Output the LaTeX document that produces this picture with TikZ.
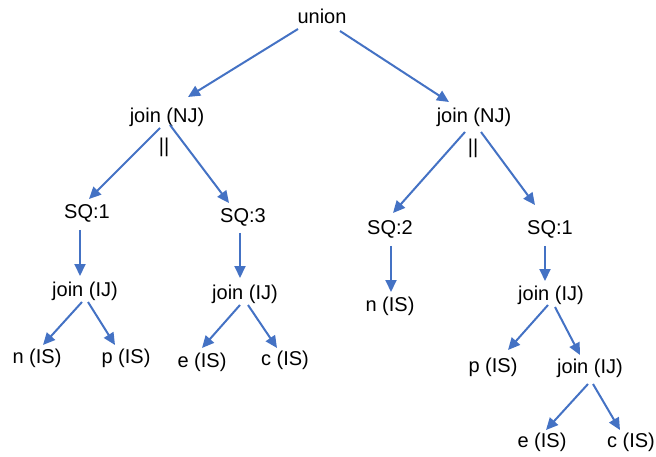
\documentclass[tikz,border=0pt]{standalone}
\usepackage{fontspec}
\setmainfont{Liberation Sans}
\usetikzlibrary{arrows.meta,calc}
\definecolor{edgeblue}{HTML}{4472C4}
\begin{document}
\begin{tikzpicture}[x=1pt,y=-1pt,
  lbl/.style={inner sep=0pt,font=\fontsize{20}{24}\selectfont},
  arr/.style={draw=edgeblue,line width=2pt,-{Triangle[length=12pt,width=11pt]}}]
\useasboundingbox (0,0) rectangle (656,457);
% plan nodes
\node[lbl] (union) at (322,16) {union};
\node[lbl] (njl) at (167,117) {join (NJ)};
\node[lbl] (njr) at (474,117) {join (NJ)};
\node[lbl] (parl) at (164,147) {||};
\node[lbl] (parr) at (473,148) {||};
\node[lbl] (sqa) at (87,213) {SQ:1};
\node[lbl] (sqc) at (243,217) {SQ:3};
\node[lbl] (sqb) at (390,229) {SQ:2};
\node[lbl] (sqd) at (550,229) {SQ:1};
\node[lbl] (ija) at (85,291) {join (IJ)};
\node[lbl] (ijb) at (245,294) {join (IJ)};
\node[lbl] (ijc) at (551,295) {join (IJ)};
\node[lbl] (ijd) at (590,368) {join (IJ)};
\node[lbl] (na) at (37,358) {n (IS)};
\node[lbl] (pa) at (126,358) {p (IS)};
\node[lbl] (ea) at (202,362) {e (IS)};
\node[lbl] (ca) at (285,360) {c (IS)};
\node[lbl] (nb) at (390,306) {n (IS)};
\node[lbl] (pb) at (493,367) {p (IS)};
\node[lbl] (eb) at (542,442) {e (IS)};
\node[lbl] (cb) at (631,442) {c (IS)};
% edges
\draw[arr] ($(union)+(-24,13)$) -- ($(njl)+(21,-20)$);
\draw[arr] ($(union)+(18,15)$) -- ($(njr)+(-25,-15)$);
\draw[arr] ($(njl)+(-7,11)$) -- ($(sqa)+(2,-14)$);
\draw[arr] ($(njl)+(3,8)$) -- ($(sqc)+(-14,-14)$);
\draw[arr] ($(njr)+(-9,15)$) -- ($(sqb)+(3,-16)$);
\draw[arr] ($(njr)+(7,15)$) -- ($(sqd)+(-15,-24)$);
\draw[arr] ($(sqa)+(-7,17)$) -- ($(ija)+(-5,-15)$);
\draw[arr] ($(sqc)+(-3,16)$) -- ($(ijb)+(-5,-16)$);
\draw[arr] ($(sqb)+(1,17)$) -- ($(nb)+(1,-14)$);
\draw[arr] ($(sqd)+(-5,17)$) -- ($(ijc)+(-6,-14)$);
\draw[arr] ($(ija)+(-3,11)$) -- ($(na)+(6,-13)$);
\draw[arr] ($(ija)+(3,11)$) -- ($(pa)+(-11,-13)$);
\draw[arr] ($(ijb)+(-5,11)$) -- ($(ea)+(0,-14)$);
\draw[arr] ($(ijb)+(3,11)$) -- ($(ca)+(-8,-12)$);
\draw[arr] ($(ijc)+(-3,10)$) -- ($(pb)+(15,-17)$);
\draw[arr] ($(ijc)+(4,12)$) -- ($(ijd)+(-10,-13)$);
\draw[arr] ($(ijd)+(-2,16)$) -- ($(eb)+(4,-12)$);
\draw[arr] ($(ijd)+(3,16)$) -- ($(cb)+(-11,-12)$);
\end{tikzpicture}
\end{document}
